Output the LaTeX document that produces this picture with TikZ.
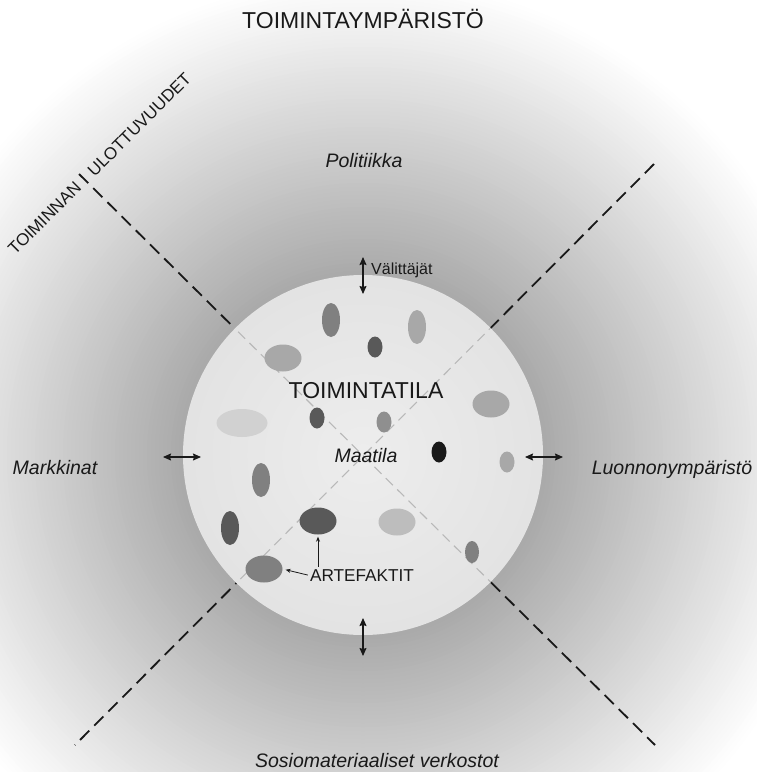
\documentclass[tikz,border=0pt]{standalone}
\usepackage{fontspec}
\setmainfont{Liberation Sans}
\usetikzlibrary{positioning, arrows.meta, shapes.geometric}

\begin{document}
\begin{tikzpicture}[x=1pt, y=-1pt, >={Stealth[length=8pt, width=7pt, inset=1pt]},
  blob/.style={ellipse, draw=none, inner sep=0pt},
  lab/.style={font=\fontsize{19.5}{22}\selectfont\itshape, text=black!90, anchor=base},
  big/.style={font=\fontsize{23}{26}\selectfont, text=black!90, anchor=base},
  dim/.style={font=\fontsize{17}{20}\selectfont, text=black!90, rotate=45, inner sep=0pt},
  dbl/.style={<->, line width=1.1pt, black!90},
  pointer/.style={-{Stealth[length=5pt, width=4pt]}, line width=0.8pt, black!90}]
  \useasboundingbox (0,0) rectangle (756,772);
  \coordinate (C) at (363,455);
  \fill[white] (0,0) rectangle (756,772);
  \foreach \r [evaluate=\r as \g using {54*(1-\r/480)}] in {480,476,...,180}
    \fill[black!\g] (C) circle[radius=\r pt];
  \coordinate (nw) at (79,174);
  \coordinate (se) at (655,745);
  \coordinate (ne) at (654,164);
  \coordinate (sw) at (75,745);
  \draw[line width=1.8pt, black!90, dash pattern=on 13pt off 7pt] (nw) -- (se) (ne) -- (sw);
  \fill[black!11] (C) circle[radius=180pt];
  \shade[inner color=black!7, outer color=black!11] (C) circle[radius=178pt];
  \begin{scope}
    \clip (C) circle[radius=180pt];
    \draw[line width=1.1pt, black!28, dash pattern=on 10pt off 6pt] (nw) -- (se) (ne) -- (sw);
  \end{scope}
  \foreach \i/\x/\y/\w/\h/\g in {1/331/320/18/34/50, 2/417/327/18/34/34, 3/375/347/15/21/65,
      4/283/358/37/27/34, 5/491/404/37/27/34, 6/242/423/51/28/18, 7/317/418/15/21/65,
      8/384/422/15/21/44, 9/439/452/15/21/90, 10/507/462/15/21/34, 11/261/480/18/34/50,
      12/230/528/18/34/65, 13/318/521/37/27/65, 14/397/522/37/27/26, 15/472/552/14/22/50,
      16/264/569/37/27/50}
    \node[blob, minimum width=\w pt, minimum height=\h pt, fill=black!\g] (e\i) at (\x,\y) {};

  \node[big] (env) at (363,28) {TOIMINTAYMPÄRISTÖ};
  \node[lab] (pol) at (364,167) {Politiikka};
  \node[lab] (mark) at (55,474) {Markkinat};
  \node[lab] (luo) at (672,474) {Luonnonympäristö};
  \node[lab] (sos) at (377,767) {Sosiomateriaaliset verkostot};
  \node[big] (tila) at (366,398) {TOIMINTATILA};
  \node[lab] (maa) at (366,462) {Maatila};
  \node[font=\fontsize{17.2}{20}\selectfont, text=black!90, anchor=base, inner sep=2pt] (art) at (362,581) {ARTEFAKTIT};
  \node[font=\fontsize{16}{19}\selectfont, text=black!90, anchor=base west, inner sep=0pt] (val) at (371,274) {Välittäjät};
  \node[dim, anchor=base east] (toim) at (82.5,188.5) {TOIMINNAN};
  \node[dim, anchor=base west] (ulot) at (94.5,177.5) {ULOTTUVUUDET};

  \coordinate (vt) at (363,257);
  \coordinate (vb) at (363,294);
  \coordinate (bt) at (363,618);
  \coordinate (bb) at (363,656);
  \coordinate (ll) at (163,457);
  \coordinate (lr) at (201,457);
  \coordinate (rl) at (525,457);
  \coordinate (rr) at (563,457);
  \draw[dbl] (vt) -- (vb);
  \draw[dbl] (bt) -- (bb);
  \draw[dbl] (ll) -- (lr);
  \draw[dbl] (rl) -- (rr);
  \draw[pointer, shorten >=3pt] (art.west) -- (e16.east);
  \draw[pointer, shorten >=2pt] (e13.south |- art.north) -- (e13.south);
\end{tikzpicture}
\end{document}
